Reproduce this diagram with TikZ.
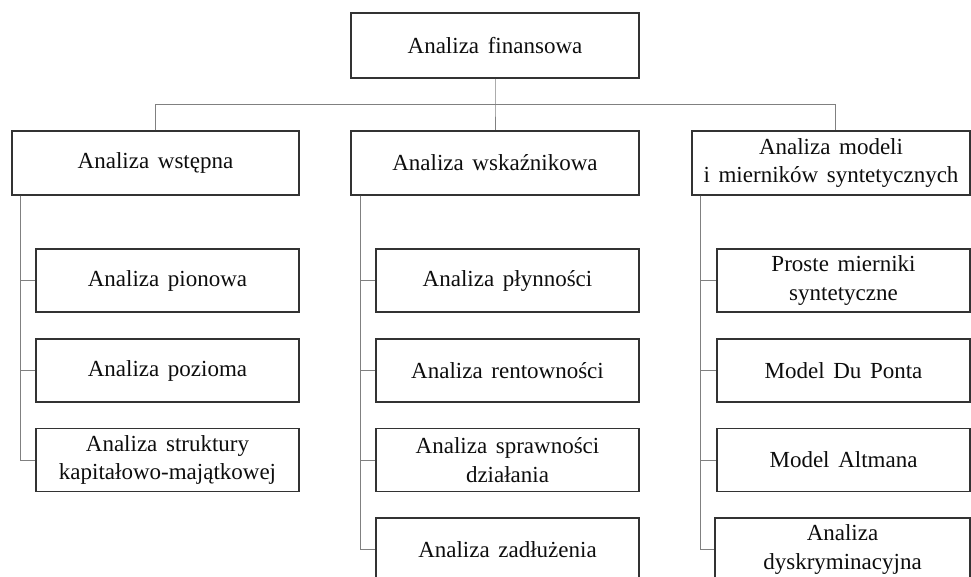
\documentclass[tikz,border=0pt]{standalone}
\usepackage{fontspec}
\setmainfont{Liberation Serif}[WordSpace=1.5]
\begin{document}
\begin{tikzpicture}[x=1pt,y=-1pt,
  box/.style={draw=black!80,line width=1.2pt,text=black!95,
    font=\fontsize{23}{28.5}\selectfont,align=center,inner sep=0pt},
  conn/.style={draw=black!50,line width=0.9pt}]
\useasboundingbox (0,0) rectangle (971,577);
\clip (0,0) rectangle (971,577);
% root
\node[box,minimum width=288pt,minimum height=65pt] (root) at (495,45.5) {Analiza finansowa};
% second level
\node[box,minimum width=287pt,minimum height=64pt] (a) at (155.5,163) {Analiza wstępna};
\node[box,minimum width=288pt,minimum height=64pt] (b) at (495,163) {Analiza wskaźnikowa};
\node[box,minimum width=278pt,minimum height=64pt] (c) at (831,163) {Analiza modeli\\i mierników syntetycznych};
% children of a
\node[box,minimum width=263pt,minimum height=63pt] (a1) at (167.5,280.5) {Analiza pionowa};
\node[box,minimum width=263pt,minimum height=63pt] (a2) at (167.5,370.5) {Analiza pozioma};
\node[box,minimum width=263pt,minimum height=63pt] (a3) at (167.5,460) {Analiza struktury\\kapitałowo-majątkowej};
% children of b
\node[box,minimum width=263pt,minimum height=63pt] (b1) at (507.5,280.5) {Analiza płynności};
\node[box,minimum width=263pt,minimum height=63pt] (b2) at (507.5,370.5) {Analiza rentowności};
\node[box,minimum width=263pt,minimum height=63pt] (b3) at (507.5,460) {Analiza sprawności\\działania};
\node[box,minimum width=263pt,minimum height=63pt] (b4) at (507.5,549.5) {Analiza zadłużenia};
% children of c
\node[box,minimum width=253pt,minimum height=63pt] (c1) at (843.5,280.5) {Proste mierniki\\syntetyczne};
\node[box,minimum width=253pt,minimum height=63pt] (c2) at (843.5,370.5) {Model Du Ponta};
\node[box,minimum width=253pt,minimum height=63pt] (c3) at (843.5,460) {Model Altmana};
\node[box,minimum width=255pt,minimum height=63pt] (c4) at (842.5,549.5) {Analiza\\dyskryminacyjna};
% bus under the root
\coordinate (bus) at (495,104);
\draw[conn] (root.south) -- (bus) -- (b.north);
\draw[conn] (a.north) |- (bus);
\draw[conn] (bus) -| ([xshift=4pt]c.north);
% trunks of each column
\coordinate (ta) at ([xshift=9pt]a.south west);
\coordinate (tb) at ([xshift=10pt]b.south west);
\coordinate (tc) at ([xshift=9pt]c.south west);
\draw[conn] (ta) |- (a3.west);
\draw[conn] (ta) |- (a1.west);
\draw[conn] (ta) |- (a2.west);
\draw[conn] (tb) |- (b4.west);
\draw[conn] (tb) |- (b1.west);
\draw[conn] (tb) |- (b2.west);
\draw[conn] (tb) |- (b3.west);
\draw[conn] (tc) |- (c4.west);
\draw[conn] (tc) |- (c1.west);
\draw[conn] (tc) |- (c2.west);
\draw[conn] (tc) |- (c3.west);
\end{tikzpicture}
\end{document}
